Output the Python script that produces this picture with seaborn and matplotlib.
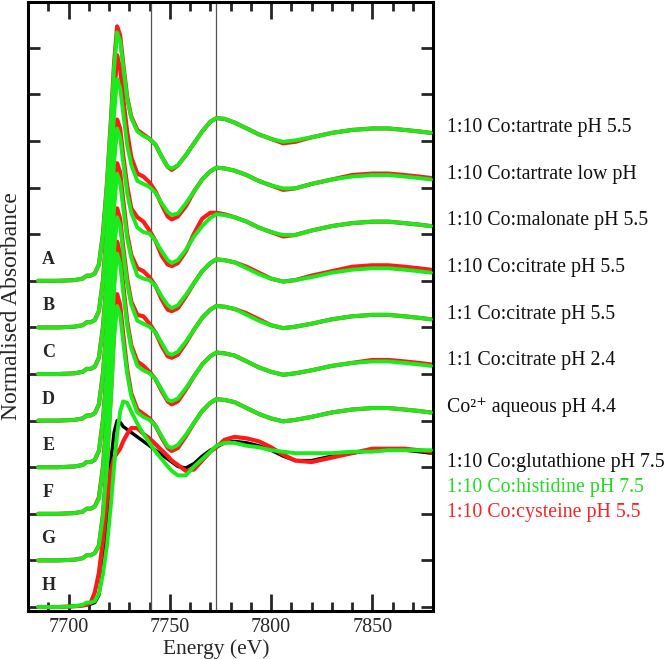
import numpy as np
import pandas as pd
import matplotlib
matplotlib.use('Agg')
import matplotlib.pyplot as plt
import seaborn as sns
from matplotlib.ticker import MultipleLocator

sns.set_theme(style='ticks')
plt.rcParams['font.family'] = ['Liberation Serif', 'DejaVu Serif']

# energy grid (eV) shared by all spectra
energy = [7685, 7695, 7703, 7707, 7709, 7711, 7713, 7715, 7717, 7719,
          7721, 7722.5, 7724, 7725.5, 7727, 7729, 7731, 7734, 7737, 7740,
          7743, 7746, 7749, 7751, 7754, 7758, 7762, 7766, 7770, 7773,
          7777, 7782, 7788, 7794, 7800, 7806, 7812, 7820, 7830, 7840,
          7850, 7858, 7866, 7873, 7879]

# normalised absorbance (red / green pair per sample)
tart55_red = [0.00, 0.00, 0.005, 0.015, 0.035, 0.035, 0.05, 0.11, 0.32, 0.66,
              1.10, 1.47, 1.72, 1.66, 1.47, 1.24, 1.11, 1.02, 0.99, 0.96,
              0.92, 0.84, 0.77, 0.75, 0.78, 0.85, 0.93, 1.01, 1.075, 1.10,
              1.095, 1.07, 1.03, 0.99, 0.96, 0.93, 0.94, 0.97, 1.00, 1.02,
              1.03, 1.03, 1.02, 1.01, 1.00]
tart55_green = [0.00, 0.00, 0.005, 0.015, 0.035, 0.035, 0.05, 0.11, 0.31, 0.65,
                1.08, 1.44, 1.68, 1.62, 1.45, 1.23, 1.10, 1.01, 0.98, 0.96,
                0.92, 0.84, 0.77, 0.76, 0.78, 0.85, 0.93, 1.01, 1.075, 1.10,
                1.095, 1.07, 1.03, 0.99, 0.96, 0.94, 0.95, 0.97, 1.00, 1.02,
                1.03, 1.03, 1.02, 1.01, 1.00]
tartlow_red = [0.00, 0.00, 0.005, 0.015, 0.035, 0.035, 0.05, 0.11, 0.32, 0.68,
               1.14, 1.55, 1.84, 1.75, 1.55, 1.32, 1.15, 1.04, 1.02, 0.98,
               0.92, 0.83, 0.75, 0.73, 0.75, 0.82, 0.92, 1.00, 1.055, 1.08,
               1.075, 1.06, 1.03, 0.99, 0.96, 0.93, 0.94, 0.97, 1.00, 1.03,
               1.04, 1.04, 1.03, 1.02, 1.01]
tartlow_green = [0.00, 0.00, 0.005, 0.015, 0.035, 0.035, 0.05, 0.11, 0.31, 0.65,
                 1.08, 1.44, 1.68, 1.62, 1.45, 1.23, 1.10, 0.99, 0.97, 0.95,
                 0.91, 0.84, 0.78, 0.76, 0.77, 0.84, 0.92, 1.00, 1.055, 1.08,
                 1.075, 1.06, 1.03, 0.99, 0.96, 0.94, 0.94, 0.97, 1.00, 1.02,
                 1.03, 1.03, 1.02, 1.01, 1.00]
malon_red = [0.00, 0.00, 0.005, 0.015, 0.035, 0.035, 0.05, 0.11, 0.32, 0.66,
             1.10, 1.48, 1.72, 1.66, 1.48, 1.27, 1.12, 1.06, 1.03, 0.97,
             0.90, 0.80, 0.74, 0.73, 0.75, 0.83, 0.95, 1.05, 1.09, 1.09,
             1.08, 1.06, 1.03, 0.99, 0.96, 0.93, 0.94, 0.97, 1.00, 1.02,
             1.03, 1.03, 1.02, 1.01, 1.00]
malon_green = [0.00, 0.00, 0.005, 0.015, 0.035, 0.035, 0.05, 0.11, 0.31, 0.65,
               1.07, 1.43, 1.66, 1.60, 1.43, 1.22, 1.09, 0.99, 0.96, 0.95,
               0.90, 0.83, 0.77, 0.75, 0.77, 0.84, 0.93, 1.00, 1.055, 1.08,
               1.075, 1.06, 1.03, 0.99, 0.96, 0.94, 0.94, 0.97, 1.00, 1.02,
               1.03, 1.03, 1.02, 1.01, 1.00]
cit10_red = [0.00, 0.00, 0.005, 0.015, 0.035, 0.035, 0.05, 0.11, 0.32, 0.67,
             1.11, 1.49, 1.74, 1.68, 1.49, 1.26, 1.12, 1.03, 1.01, 0.97,
             0.91, 0.82, 0.75, 0.74, 0.76, 0.84, 0.93, 1.01, 1.065, 1.09,
             1.085, 1.07, 1.04, 1.00, 0.96, 0.94, 0.95, 0.98, 1.01, 1.04,
             1.05, 1.05, 1.04, 1.03, 1.02]
cit10_green = [0.00, 0.00, 0.005, 0.015, 0.035, 0.035, 0.05, 0.11, 0.31, 0.65,
               1.08, 1.44, 1.67, 1.61, 1.44, 1.23, 1.10, 0.98, 0.96, 0.95,
               0.91, 0.84, 0.78, 0.76, 0.78, 0.85, 0.93, 1.01, 1.065, 1.09,
               1.085, 1.07, 1.03, 0.99, 0.96, 0.94, 0.95, 0.97, 1.00, 1.02,
               1.03, 1.03, 1.02, 1.01, 1.00]
cit1_55_red = [0.00, 0.00, 0.005, 0.015, 0.035, 0.035, 0.05, 0.11, 0.32, 0.67,
               1.12, 1.51, 1.75, 1.68, 1.49, 1.27, 1.12, 1.03, 1.02, 0.97,
               0.91, 0.82, 0.75, 0.74, 0.76, 0.84, 0.93, 1.01, 1.065, 1.09,
               1.085, 1.07, 1.04, 1.00, 0.96, 0.94, 0.95, 0.97, 1.00, 1.02,
               1.03, 1.03, 1.02, 1.01, 1.00]
cit1_55_green = [0.00, 0.00, 0.005, 0.015, 0.035, 0.035, 0.05, 0.11, 0.31, 0.65,
                 1.09, 1.46, 1.69, 1.63, 1.45, 1.24, 1.10, 0.99, 0.97, 0.95,
                 0.91, 0.84, 0.77, 0.76, 0.78, 0.85, 0.93, 1.01, 1.065, 1.09,
                 1.085, 1.07, 1.03, 0.99, 0.96, 0.94, 0.95, 0.97, 1.00, 1.02,
                 1.03, 1.03, 1.02, 1.01, 1.00]
cit1_24_red = [0.00, 0.00, 0.005, 0.015, 0.035, 0.035, 0.05, 0.11, 0.32, 0.68,
               1.16, 1.58, 1.84, 1.76, 1.55, 1.30, 1.14, 1.03, 1.00, 0.96,
               0.91, 0.83, 0.76, 0.74, 0.76, 0.84, 0.93, 1.01, 1.065, 1.09,
               1.085, 1.07, 1.03, 0.99, 0.96, 0.94, 0.95, 0.97, 1.00, 1.02,
               1.04, 1.04, 1.03, 1.02, 1.01]
cit1_24_green = [0.00, 0.00, 0.005, 0.015, 0.035, 0.035, 0.05, 0.10, 0.30, 0.66,
                 1.12, 1.52, 1.76, 1.69, 1.50, 1.27, 1.12, 1.00, 0.97, 0.95,
                 0.91, 0.84, 0.77, 0.76, 0.78, 0.85, 0.93, 1.01, 1.065, 1.09,
                 1.085, 1.07, 1.03, 0.99, 0.96, 0.94, 0.95, 0.97, 1.00, 1.02,
                 1.03, 1.03, 1.02, 1.01, 1.00]
aq_red = [0.00, 0.00, 0.005, 0.015, 0.035, 0.035, 0.05, 0.10, 0.31, 0.67,
          1.14, 1.55, 1.80, 1.73, 1.53, 1.29, 1.13, 1.02, 0.99, 0.96,
          0.91, 0.83, 0.76, 0.74, 0.76, 0.84, 0.93, 1.01, 1.065, 1.09,
          1.085, 1.07, 1.03, 0.99, 0.96, 0.94, 0.95, 0.97, 1.00, 1.02,
          1.03, 1.03, 1.02, 1.01, 1.00]
aq_green = [0.00, 0.00, 0.005, 0.015, 0.035, 0.035, 0.05, 0.10, 0.30, 0.65,
            1.11, 1.50, 1.72, 1.66, 1.48, 1.26, 1.11, 1.00, 0.97, 0.95,
            0.91, 0.84, 0.77, 0.76, 0.78, 0.85, 0.93, 1.01, 1.065, 1.09,
            1.085, 1.07, 1.03, 0.99, 0.96, 0.94, 0.95, 0.97, 1.00, 1.02,
            1.03, 1.03, 1.02, 1.01, 1.00]
glut_black = [0.00, 0.00, 0.005, 0.01, 0.015, 0.02, 0.03, 0.08, 0.25, 0.60,
              1.00, 1.18, 1.26, 1.25, 1.22, 1.20, 1.18, 1.15, 1.12, 1.09,
              1.06, 1.03, 1.00, 0.98, 0.95, 0.94, 0.97, 1.02, 1.06, 1.08,
              1.11, 1.12, 1.11, 1.09, 1.06, 1.02, 0.99, 0.99, 1.02, 1.04,
              1.06, 1.06, 1.06, 1.05, 1.04]
hist_green = [0.00, 0.00, 0.005, 0.015, 0.03, 0.03, 0.04, 0.09, 0.22, 0.42,
              0.70, 0.95, 1.17, 1.32, 1.39, 1.38, 1.32, 1.24, 1.17, 1.11,
              1.05, 1.00, 0.95, 0.92, 0.89, 0.89, 0.95, 1.00, 1.05, 1.09,
              1.11, 1.11, 1.09, 1.08, 1.06, 1.05, 1.04, 1.04, 1.04, 1.05,
              1.05, 1.06, 1.06, 1.06, 1.06]
cyst_red = [0.00, 0.00, 0.005, 0.01, 0.015, 0.03, 0.10, 0.23, 0.45, 0.72,
            0.92, 1.01, 1.04, 1.07, 1.12, 1.17, 1.21, 1.21, 1.17, 1.14,
            1.10, 1.06, 1.02, 0.99, 0.96, 0.92, 0.93, 0.99, 1.05, 1.08,
            1.13, 1.15, 1.14, 1.12, 1.08, 1.03, 0.99, 0.98, 1.01, 1.04,
            1.07, 1.07, 1.07, 1.06, 1.05]

letters = ['A', 'B', 'C', 'D', 'E', 'F', 'G', 'H']
stack_labels = ['1:10 Co:tartrate pH 5.5', '1:10 Co:tartrate low pH',
                '1:10 Co:malonate pH 5.5', '1:10 Co:citrate pH 5.5',
                '1:1 Co:citrate pH 5.5', '1:1 Co:citrate pH 2.4',
                'Co²⁺ aqueous pH 4.4']
bottom_labels = ['1:10 Co:glutathione pH 7.5', '1:10 Co:histidine pH 7.5',
                 '1:10 Co:cysteine pH 5.5']
ref_lines = [7740.5, 7773]

RED = '#ff1a1a'
GREEN = '#1aeb1a'
step = 0.315  # vertical offset between stacked spectra

pairs = [(tart55_red, tart55_green), (tartlow_red, tartlow_green),
         (malon_red, malon_green), (cit10_red, cit10_green),
         (cit1_55_red, cit1_55_green), (cit1_24_red, cit1_24_green),
         (aq_red, aq_green)]

fig = plt.figure(figsize=(6.66, 6.59), dpi=100)
ax = fig.add_axes([28 / 666, 48 / 659, 405 / 666, 609 / 659])

for xv in ref_lines:
    ax.axvline(xv, color='#555555', lw=0.9, zorder=1)

n = len(letters)
for i, (red, green) in enumerate(pairs):
    off = (n - 1 - i) * step
    sns.lineplot(x=energy, y=np.array(red) + off, color=RED, lw=3.0, ax=ax, zorder=2)
    sns.lineplot(x=energy, y=np.array(green) + off, color=GREEN, lw=2.8, ax=ax, zorder=3)

sns.lineplot(x=energy, y=glut_black, color='black', lw=2.4, ax=ax, zorder=2)
sns.lineplot(x=energy, y=cyst_red, color=RED, lw=3.0, ax=ax, zorder=2)
sns.lineplot(x=energy, y=hist_green, color=GREEN, lw=2.8, ax=ax, zorder=3)

# letters on the left, sample names on the right
for i, let in enumerate(letters):
    ax.text(7690, (n - 1 - i) * step + 0.145, let, fontsize=13, fontweight='bold',
            ha='center', va='center')
for i, lab in enumerate(stack_labels):
    ax.text(1.034, (n - 1 - i) * step + 1.035, lab, transform=ax.get_yaxis_transform(),
            fontsize=14.3, ha='left', va='center', color='#111111', clip_on=False)
for lab, col, yy in zip(bottom_labels, ['#111111', '#22dd22', '#ff2222'], [0.98, 0.81, 0.64]):
    ax.text(1.034, yy, lab, transform=ax.get_yaxis_transform(), fontsize=14.3,
            ha='left', va='center', color=col, clip_on=False)

ax.set_xlim(7680, 7880)
ax.set_ylim(-0.027, 4.09)
ax.xaxis.set_major_locator(MultipleLocator(50))
ax.xaxis.set_minor_locator(MultipleLocator(10))
ax.yaxis.set_major_locator(MultipleLocator(step))
ax.set_yticklabels([])
ax.tick_params(axis='x', which='major', direction='in', length=12, width=2,
               top=True, bottom=True, labelsize=14.5, pad=5)
ax.tick_params(axis='x', which='minor', direction='in', length=6.5, width=2,
               top=True, bottom=True)
ax.tick_params(axis='y', which='major', direction='in', length=8.5, width=2,
               left=True, right=True, labelleft=False)
for sp in ax.spines.values():
    sp.set_linewidth(2.2)
    sp.set_color('black')

ax.set_xlabel('Energy (eV)', fontsize=15.5)
ax.xaxis.set_label_coords((216 - 28) / 405, -0.047)
ax.set_ylabel('Normalised Absorbance', fontsize=17, labelpad=4)

fig.savefig('out.png', dpi=100)
